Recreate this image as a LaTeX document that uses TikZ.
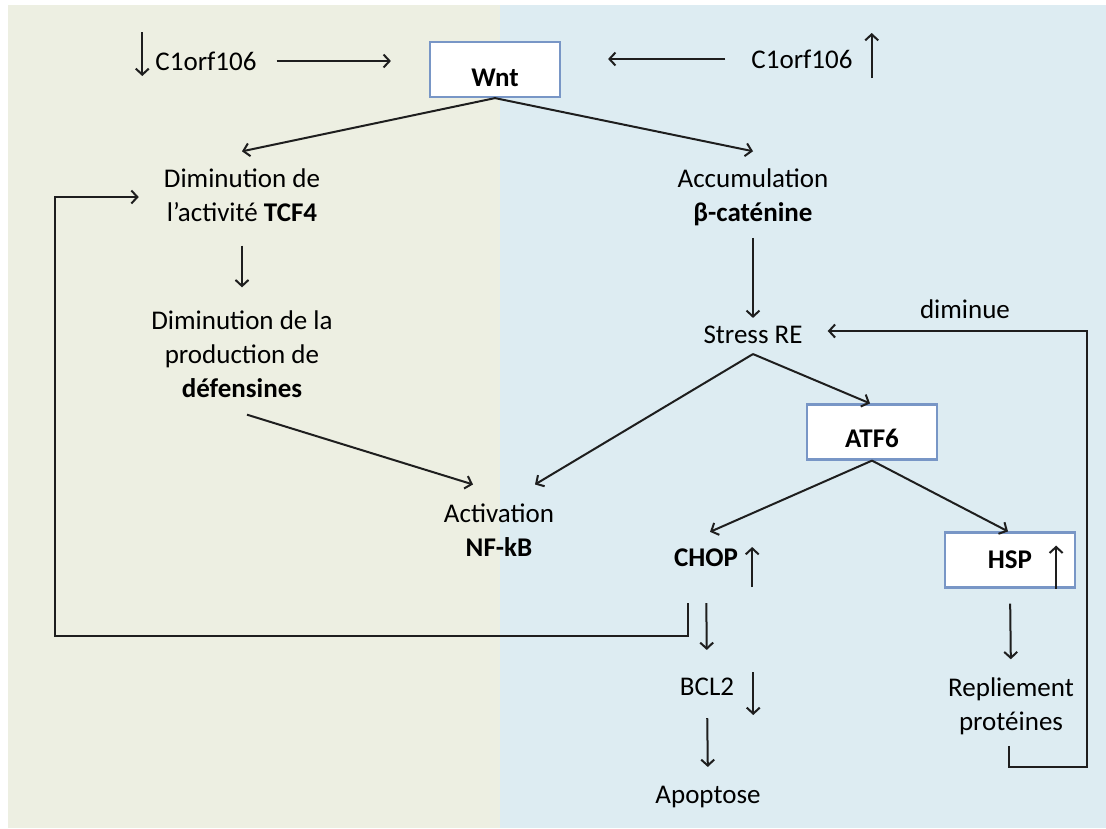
\documentclass[tikz,border=0pt]{standalone}
\usepackage{fontspec}
\setmainfont{Carlito}
\usetikzlibrary{arrows.meta,calc}
\definecolor{bgL}{RGB}{237,239,226}
\definecolor{bgR}{RGB}{221,236,242}
\definecolor{lnc}{RGB}{30,30,30}
\definecolor{boxc}{RGB}{120,150,198}
\begin{document}
\begin{tikzpicture}[x=1pt,y=-1pt,
  every node/.style={font=\fontsize{27}{34}\selectfont, text=black, inner sep=2pt},
  lbl/.style={align=center},
  bld/.style={font=\fontsize{27}{34}\selectfont\bfseries},
  box/.style={draw=boxc, line width=2.2pt, fill=white, minimum width=130pt, minimum height=55pt, text depth=0pt, font=\fontsize{27}{34}\selectfont\bfseries},
  arr/.style={draw=lnc, line width=2pt, -{Straight Barb[length=6pt,width=13pt]}}]
\useasboundingbox (0,0) rectangle (1106,828);
\fill[white] (0,0) rectangle (1106,828);
\fill[bgL] (8,5) rectangle (500,828);
\fill[bgR] (500,5) rectangle (1106,828);

% nodes
\node (c1L) at (206,61) {C1orf106};
\node (c1R) at (802,59) {C1orf106};
\node[box, text height=33pt] (wnt) at (495,69.5) {Wnt};
\node[lbl] (dimTCF) at (242,195) {Diminution de\\l’activité \textbf{TCF4}};
\node[lbl] (defens) at (242,354) {Diminution de la\\production de\\\textbf{défensines}};
\node[lbl] (nfkb) at (499,530) {Activation\\\textbf{NF-kB}};
\node[lbl] (accum) at (753,197) {Accumulation\\\textbf{β-caténine}};
\node (stress) at (753,335) {Stress RE};
\node (dimi) at (965,309) {diminue};
\node[box, text height=30pt] (atf6) at (872,432) {ATF6};
\node[bld] (chop) at (706,558) {CHOP};
\node[box, text height=16pt] (hsp) at (1010,560) {HSP};
\node (bcl2) at (707,687) {BCL2};
\node (apop) at (708,797) {Apoptose};
\node[lbl] (repl) at (1011,706) {Repliement\\protéines};

% connectors
\draw[arr, shorten <=18pt] (c1L.east) -- ([xshift=-38pt]c1L.east -| wnt.west);
\draw[arr, shorten <=24pt] (c1R.west) -- ([xshift=47pt]c1R.west -| wnt.east);
\draw[arr] (wnt.south) -- ([yshift=15pt]dimTCF.north);
\draw[arr] (wnt.south) -- ([yshift=15pt]accum.north);
\draw[arr, shorten <=22pt, shorten >=21pt] (dimTCF.south) -- (defens.north);
\draw[arr] ([xshift=5pt,yshift=-15pt]defens.south) -- ([xshift=-26pt,yshift=17pt]nfkb.north);
\draw[arr, shorten <=10pt, shorten >=6pt] (accum.south) -- (stress.north);
\draw[arr] ([yshift=-8pt]stress.south) -- ([xshift=36pt,yshift=17pt]nfkb.north);
\draw[arr] ([yshift=-8pt]stress.south) -- ([xshift=-2pt]atf6.north);
\draw[arr] (atf6.south) -- ([xshift=4pt,yshift=15pt]chop.north);
\draw[arr] (atf6.south) -- ([xshift=-2pt]hsp.north);
\draw[arr, shorten <=15pt, shorten >=16pt] (hsp.south) -- (repl.north);
\draw[arr, shorten <=34pt, shorten >=26pt] (chop.south) -- (bcl2.north);
\draw[arr, shorten <=20pt, shorten >=17pt] (bcl2.south) -- (apop.north);
\draw[arr] ([xshift=-2pt,yshift=-9pt]repl.south) -- ++(0,21) -- ++(78,0) |- ([xshift=23pt,yshift=4pt]stress.east);
\draw[arr] ([xshift=-18pt,yshift=-34pt]chop.south) -- ++(0,33) -- ++(-633,0) |- ([xshift=-23pt,yshift=-2pt]dimTCF.west);

% up / down indicators
\draw[arr] ([xshift=-11pt,yshift=29pt]c1L.west) -- ++(0,44);
\draw[arr] ([xshift=17pt,yshift=-19pt]c1R.east) -- ++(0,-45);
\draw[arr] ([xshift=12pt,yshift=-29pt]chop.east) -- ++(0,-40);
\draw[arr] ([xshift=-20pt]hsp.south east) -- ++(0,-43);
\draw[arr] ([xshift=17pt,yshift=15pt]bcl2.east) -- ++(0,43);
\end{tikzpicture}
\end{document}
